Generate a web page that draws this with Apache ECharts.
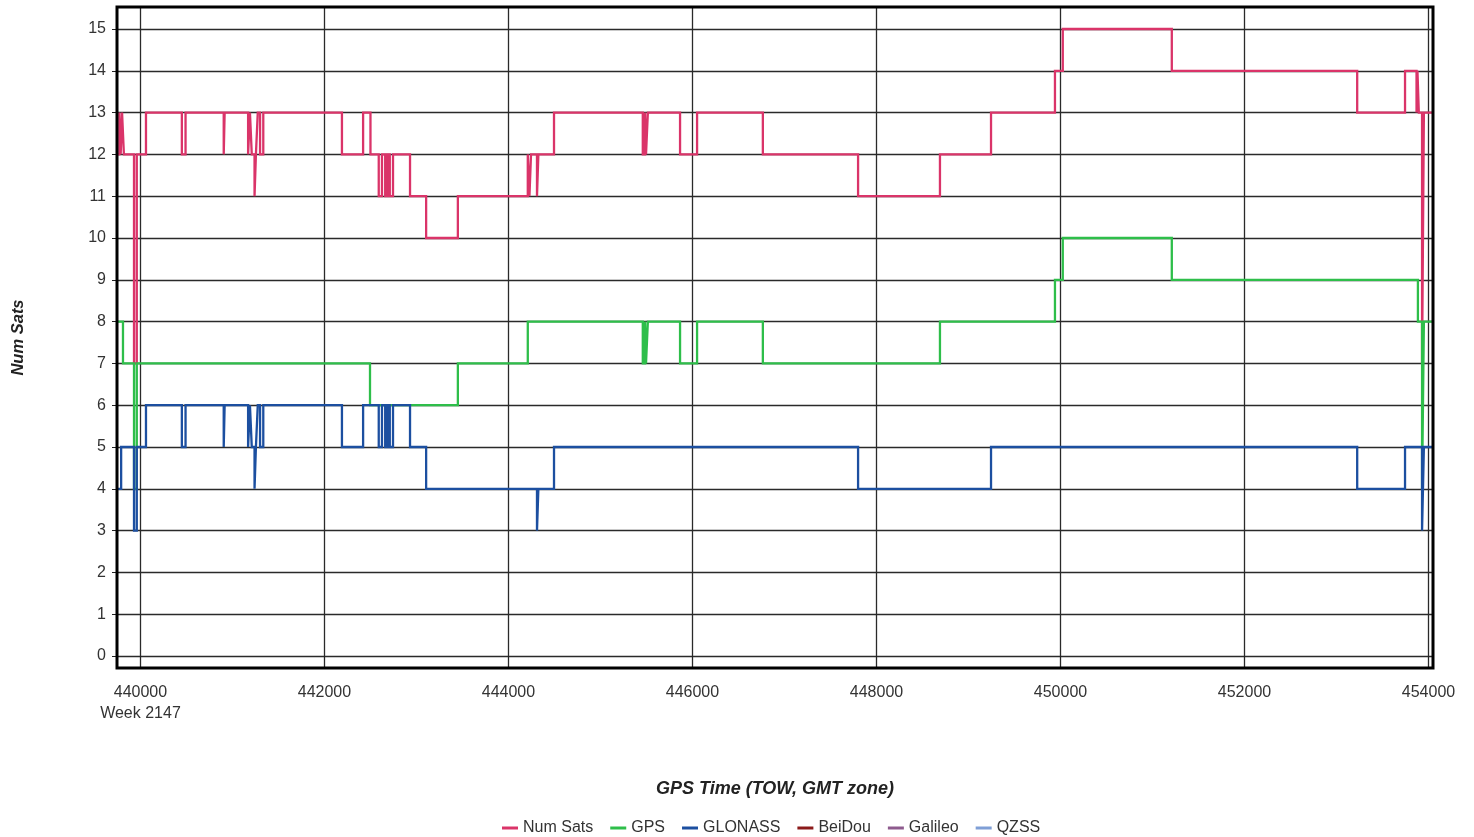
<!DOCTYPE html>
<html>
<head>
<meta charset="utf-8">
<script src="https://cdn.jsdelivr.net/npm/echarts@6/dist/echarts.min.js"></script>
<style>html,body{margin:0;padding:0;background:#fff;}#c{width:1474px;height:837px;}</style>
</head>
<body>
<div id="c"></div>
<script>
// Step-change points: value holds from each time until the next one
const numSatsT = [439745,439770,439785,439800,439820,439930,439960,440060,440450,440490,440905,440915,441170,441190,441210,441240,441255,441275,441300,441335,442190,442420,442500,442590,442625,442660,442685,442710,442745,442930,443105,443450,444210,444228,444245,444310,444325,444495,445460,445485,445495,445515,445865,446050,446765,447800,448690,449245,449940,450025,451210,453225,453745,453870,453880,453895,453930,453950,454060];
const numSatsV = [12,13,12,13,12,7,12,13,12,13,12,13,12,13,12,11,12,13,12,13,12,13,12,11,12,11,12,11,12,11,10,11,12,11,12,11,12,13,12,13,12,13,12,13,12,11,12,13,14,15,14,13,14,13,14,13,7,13,13];

const gpsT = [439745,439810,439930,439960,442495,443450,444210,445460,445485,445495,445515,445865,446050,446765,448690,449940,450025,451210,453885,453930,453950,454060];
const gpsV = [8,7,4,7,6,7,8,7,8,7,8,7,8,7,8,9,10,9,8,4,8,8];

const glonassT = [439745,439790,439930,439960,440060,440450,440490,440905,440915,441170,441190,441210,441240,441255,441275,441300,441335,442190,442420,442590,442625,442660,442685,442710,442745,442930,443105,444310,444325,444495,447800,449245,453225,453745,453930,453950,454060];
const glonassV = [4,5,3,5,6,5,6,5,6,5,6,5,4,5,6,5,6,5,6,5,6,5,6,5,6,5,4,3,4,5,4,5,4,5,3,5,5];

const beidouT = [], beidouV = [];
const galileoT = [], galileoV = [];
const qzssT = [], qzssV = [];

const xTicks = [440000,442000,444000,446000,448000,450000,452000,454000];
const yTicks = [0,1,2,3,4,5,6,7,8,9,10,11,12,13,14,15];
const weekLabel = 'Week 2147';

const zip = (t, v) => t.map((x, i) => [x, v[i]]);
const font = '"Liberation Sans", Arial, sans-serif';

const chart = echarts.init(document.getElementById('c'), null, {renderer: 'canvas'});
const mk = (name, color, t, v) => ({
  name, type: 'line', step: 'end', data: zip(t, v), showSymbol: false, symbol: 'none',
  lineStyle: {color, width: 2.3, join: 'miter'}, itemStyle: {color}, animation: false, z: 3
});
chart.setOption({
  animation: false,
  backgroundColor: '#fff',
  grid: {left: 117, right: 41, top: 7, bottom: 169, show: true, borderColor: '#000', borderWidth: 3,
    backgroundColor: 'transparent', z: 5, containLabel: false, outerBoundsMode: 'none'},
  xAxis: {
    type: 'value', min: 439745, max: 454049,
    name: 'GPS Time (TOW, GMT zone)', nameLocation: 'middle', nameGap: 112, nameMoveOverlap: false,
    nameTextStyle: {fontFamily: font, fontSize: 18, fontWeight: 'bold', fontStyle: 'italic', color: '#222'},
    axisLine: {show: false},
    axisTick: {show: true, customValues: xTicks, length: 4, inside: false, lineStyle: {color: '#222'}},
    axisLabel: {customValues: xTicks, fontFamily: font, fontSize: 16, color: '#333', margin: 14, lineHeight: 21,
      formatter: v => v === xTicks[0] ? v + '\n' + weekLabel : String(v)},
    splitLine: {show: true, lineStyle: {color: '#2a2a2a', width: 1.3}}
  },
  yAxis: {
    type: 'value', min: -0.287, max: 15.526,
    name: 'Num Sats', nameLocation: 'middle', nameGap: 90, nameRotate: 90, nameMoveOverlap: false,
    nameTextStyle: {fontFamily: font, fontSize: 16.5, fontWeight: 'bold', fontStyle: 'italic', color: '#222'},
    axisLine: {show: false},
    axisTick: {show: true, customValues: yTicks, length: 5, lineStyle: {color: '#222'}},
    axisLabel: {customValues: yTicks, fontFamily: font, fontSize: 16, color: '#333', margin: 11},
    splitLine: {show: true, lineStyle: {color: '#2a2a2a', width: 1.3}}
  },
  legend: {
    top: 815, left: 497, itemWidth: 16, itemHeight: 3, itemGap: 17, icon: 'rect',
    textStyle: {fontFamily: font, fontSize: 16, color: '#333'},
    data: ['Num Sats','GPS','GLONASS','BeiDou','Galileo','QZSS']
  },
  series: [
    mk('Num Sats', '#DA3469', numSatsT, numSatsV),
    mk('GPS', '#2EBE4A', gpsT, gpsV),
    mk('GLONASS', '#1C4FA0', glonassT, glonassV),
    mk('BeiDou', '#8B1A1A', beidouT, beidouV),
    mk('Galileo', '#8E5B8E', galileoT, galileoV),
    mk('QZSS', '#7F9FD6', qzssT, qzssV)
  ]
});
</script>
</body>
</html>
